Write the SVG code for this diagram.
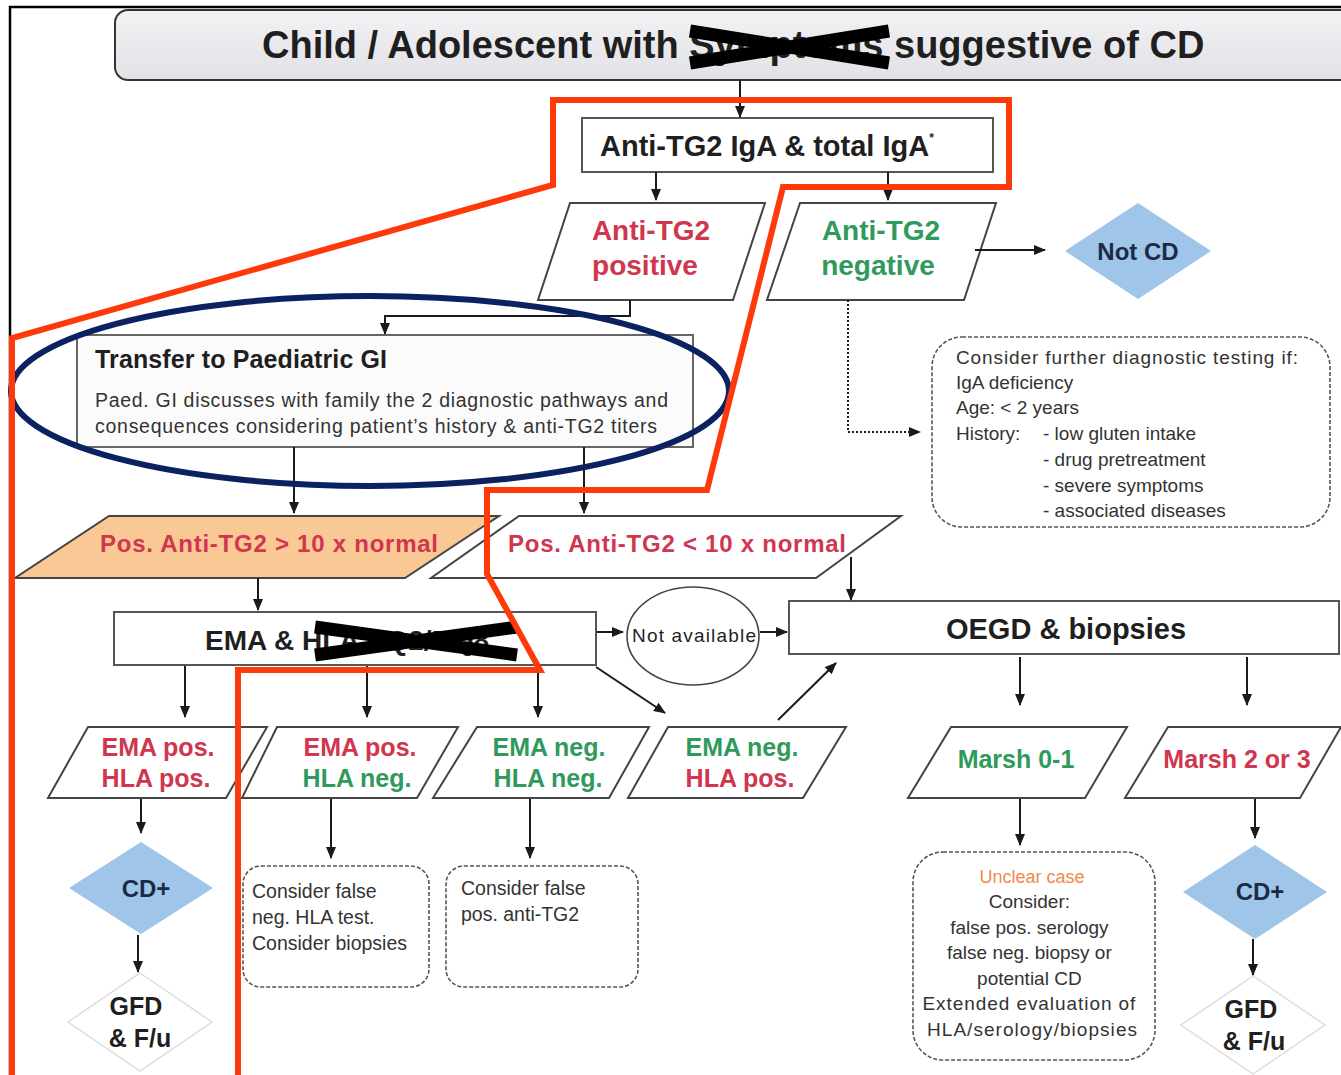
<svg xmlns="http://www.w3.org/2000/svg" width="1341" height="1075" viewBox="0 0 1341 1075">
<defs>
<marker id="ah" markerUnits="userSpaceOnUse" markerWidth="12" markerHeight="10" refX="11" refY="5" orient="auto">
<path d="M0,0 L12,5 L0,10 z" fill="#1a1a1a"/>
</marker>
<linearGradient id="tg" x1="0" y1="0" x2="0" y2="1">
<stop offset="0" stop-color="#f2f2f5"/><stop offset="1" stop-color="#e2e2e6"/>
</linearGradient>
<style>
text{font-family:"Liberation Sans",Arial,sans-serif;}
.b{font-weight:bold;}
.dk{fill:#1f1f1f;}
.red{fill:#d0364e;}
.grn{fill:#2f9a5c;}
.navy{fill:#1c2a48;}
.gray{fill:#333;}
.box{fill:#fff;stroke:#555;stroke-width:2;}
.para{fill:#fff;stroke:#444;stroke-width:2;}
.dash{fill:#fff;stroke:#555;stroke-width:1.6;stroke-dasharray:4 2;}
.dia{fill:#9fc5e8;}
.wdia{fill:#fff;stroke:#ddd;stroke-width:1.5;}
.cn{fill:none;stroke:#1a1a1a;stroke-width:2;marker-end:url(#ah);}
.red-line{fill:none;stroke:#ff3a0a;stroke-width:6;stroke-linejoin:miter;}
.xx{stroke:#000;stroke-width:13;}
</style>
</defs>

<!-- outer frame -->
<path d="M10,1075 V7 H1341" fill="none" stroke="#000" stroke-width="2.5"/>

<g id="title">
<rect x="115" y="10" width="1240" height="70" rx="13" fill="url(#tg)" stroke="#333" stroke-width="2"/>
<text x="262" y="58" class="b dk" font-size="38">Child / Adolescent with Symptoms suggestive of CD</text>
</g>

<g id="antitg2">
<rect x="582" y="118" width="411" height="54" class="box"/>
<text x="600" y="156" class="b dk" font-size="29">Anti-TG2 IgA &amp; total IgA<tspan font-size="12" dy="-14">*</tspan></text>
</g>

<g id="positive">
<polygon points="570,203 765,203 733,300 538,300" class="para"/>
<text x="651" y="240" class="b red" font-size="28" text-anchor="middle">Anti-TG2</text>
<text x="645" y="275" class="b red" font-size="28" text-anchor="middle">positive</text>
</g>

<g id="negative">
<polygon points="800,203 996,203 964,300 767,300" class="para"/>
<text x="881" y="240" class="b grn" font-size="28" text-anchor="middle">Anti-TG2</text>
<text x="878" y="275" class="b grn" font-size="28" text-anchor="middle">negative</text>
</g>

<g id="notcd">
<polygon points="1138,203 1211,251 1138,299 1065,251" class="dia"/>
<text x="1138" y="260" class="b navy" font-size="24" text-anchor="middle">Not CD</text>
</g>

<g id="consider">
<rect x="932" y="337" width="398" height="190" rx="30" class="dash"/>
<text class="gray" font-size="19">
<tspan x="956" y="364" textLength="342">Consider further diagnostic testing if:</tspan>
<tspan x="956" y="389">IgA deficiency</tspan>
<tspan x="956" y="414">Age: &lt; 2 years</tspan>
<tspan x="956" y="440">History:</tspan>
<tspan x="1043" y="440">- low gluten intake</tspan>
<tspan x="1043" y="466">- drug pretreatment</tspan>
<tspan x="1043" y="492">- severe symptoms</tspan>
<tspan x="1043" y="517">- associated diseases</tspan>
</text>
</g>

<g id="transfer">
<rect x="77" y="335" width="616" height="112" fill="#fbfbfb" stroke="#666" stroke-width="2"/>
<text x="95" y="368" class="b dk" font-size="25" textLength="292">Transfer to Paediatric GI</text>
<text x="95" y="407" class="gray" font-size="19.5" textLength="573">Paed. GI discusses with family the 2 diagnostic pathways and</text>
<text x="95" y="433" class="gray" font-size="19.5" textLength="562">consequences considering patient’s history &amp; anti-TG2 titers</text>
</g>

<g id="high">
<polygon points="109,516 499,516 405,578 15,578" fill="#f9c894" stroke="#444" stroke-width="2"/>
<text x="100" y="552" class="b red" font-size="24" textLength="338">Pos. Anti-TG2 &gt; 10 x normal</text>
</g>

<g id="low">
<polygon points="519,516 901,516 816,578 431,578" class="para"/>
<text x="508" y="552" class="b red" font-size="24" textLength="338">Pos. Anti-TG2 &lt; 10 x normal</text>
</g>

<g id="ema">
<rect x="114" y="612" width="482" height="53" class="box"/>
<text x="205" y="650" class="b dk" font-size="28">EMA &amp; HLA DQ2/DQ8</text>
</g>

<g id="notavail">
<ellipse cx="693" cy="636" rx="66" ry="49" fill="#fff" stroke="#444" stroke-width="1.6"/>
<text x="694" y="642" class="dk" font-size="19" text-anchor="middle" textLength="124">Not available</text>
</g>

<g id="oegd">
<rect x="789" y="601" width="550" height="53" class="box"/>
<text x="1066" y="639" class="b dk" font-size="29" text-anchor="middle">OEGD &amp; biopsies</text>
</g>

<g id="r1">
<polygon points="88,727 267,727 226,798 48,798" class="para"/>
<text x="158" y="756" class="b red" font-size="25" text-anchor="middle">EMA pos.</text>
<text x="156" y="787" class="b red" font-size="25" text-anchor="middle">HLA pos.</text>
</g>

<g id="r2">
<polygon points="277,727 458,727 417,798 242,798" class="para"/>
<text x="360" y="756" class="b red" font-size="25" text-anchor="middle">EMA pos.</text>
<text x="357" y="787" class="b grn" font-size="25" text-anchor="middle">HLA neg.</text>
</g>

<g id="r3">
<polygon points="477,727 649,727 609,798 433,798" class="para"/>
<text x="549" y="756" class="b grn" font-size="25" text-anchor="middle">EMA neg.</text>
<text x="548" y="787" class="b grn" font-size="25" text-anchor="middle">HLA neg.</text>
</g>

<g id="r4">
<polygon points="668,727 846,727 803,798 628,798" class="para"/>
<text x="742" y="756" class="b grn" font-size="25" text-anchor="middle">EMA neg.</text>
<text x="740" y="787" class="b red" font-size="25" text-anchor="middle">HLA pos.</text>
</g>

<g id="marsh01">
<polygon points="951,727 1127,727 1085,798 908,798" class="para"/>
<text x="1016" y="768" class="b grn" font-size="25" text-anchor="middle">Marsh 0-1</text>
</g>

<g id="marsh23">
<polygon points="1168,727 1341,727 1300,798 1125,798" class="para"/>
<text x="1237" y="768" class="b red" font-size="25" text-anchor="middle">Marsh 2 or 3</text>
</g>

<g id="cd1">
<polygon points="141,842 213,888 141,934 69,888" class="dia"/>
<text x="146" y="897" class="b navy" font-size="24" text-anchor="middle">CD+</text>
</g>

<g id="gfd1">
<polygon points="140,973 212,1022 140,1071 68,1022" class="wdia"/>
<text x="136" y="1015" class="b dk" font-size="25" text-anchor="middle">GFD</text>
<text x="140" y="1047" class="b dk" font-size="25" text-anchor="middle">&amp; F/u</text>
</g>

<g id="falseneg">
<rect x="243" y="866" width="186" height="121" rx="18" class="dash"/>
<text class="gray" font-size="19.5">
<tspan x="252" y="898">Consider false</tspan>
<tspan x="252" y="924">neg. HLA test.</tspan>
<tspan x="252" y="950">Consider biopsies</tspan>
</text>
</g>

<g id="falsepos">
<rect x="446" y="866" width="192" height="121" rx="18" class="dash"/>
<text class="gray" font-size="19.5">
<tspan x="461" y="895">Consider false</tspan>
<tspan x="461" y="921">pos. anti-TG2</tspan>
</text>
</g>

<g id="unclear">
<rect x="913" y="852" width="242" height="208" rx="30" class="dash"/>
<text x="1032" y="883" font-size="18" fill="#f08a4b" text-anchor="middle">Unclear case</text>
<text class="gray" font-size="19" text-anchor="middle">
<tspan x="1032" y="908">Consider:</tspan>
<tspan x="1032" y="934">false pos. serology</tspan>
<tspan x="1032" y="959">false neg. biopsy or</tspan>
<tspan x="1032" y="985">potential CD</tspan>
<tspan x="1032" y="1010" textLength="213">Extended evaluation of</tspan>
<tspan x="1032" y="1036" textLength="210">HLA/serology/biopsies</tspan>
</text>
</g>

<g id="cd2">
<polygon points="1255,845 1327,892 1255,939 1183,892" class="dia"/>
<text x="1260" y="900" class="b navy" font-size="24" text-anchor="middle">CD+</text>
</g>

<g id="gfd2">
<polygon points="1253,976 1325,1025 1253,1074 1181,1025" class="wdia"/>
<text x="1251" y="1018" class="b dk" font-size="25" text-anchor="middle">GFD</text>
<text x="1254" y="1050" class="b dk" font-size="25" text-anchor="middle">&amp; F/u</text>
</g>

<g id="connectors">
<path d="M740,80 V117" class="cn" stroke-width="1.5"/>
<path d="M656,172 V200" class="cn"/>
<path d="M888,172 V200" class="cn" stroke-width="1.5"/>
<path d="M975,250 H1045" class="cn"/>
<path d="M848,300 V432 H920" class="cn" stroke-dasharray="2 2" stroke-width="2"/>
<path d="M630,300 V316 H385 V334" class="cn"/>
<path d="M294,447 V513" class="cn"/>
<path d="M584,447 V513" class="cn"/>
<path d="M258,578 V610" class="cn"/>
<path d="M851,557 V600" class="cn"/>
<path d="M597,632 H623" class="cn"/>
<path d="M760,632 H787" class="cn"/>
<path d="M596,667 L665,713" class="cn"/>
<path d="M778,720 L836,663" class="cn"/>
<path d="M185,666 V717" class="cn"/>
<path d="M367,666 V717" class="cn"/>
<path d="M538,666 V717" class="cn"/>
<path d="M1020,657 V705" class="cn"/>
<path d="M1247,657 V705" class="cn"/>
<path d="M141,799 V833" class="cn"/>
<path d="M138,935 V972" class="cn"/>
<path d="M331,799 V858" class="cn"/>
<path d="M530,799 V858" class="cn"/>
<path d="M1020,799 V845" class="cn"/>
<path d="M1255,799 V838" class="cn"/>
<path d="M1253,939 V975" class="cn"/>
</g>

<!-- annotations -->
<g id="crosses">
<path d="M690,31 L889,63 M690,63 L889,31" class="xx"/>
<path d="M315,627 L517,655 M315,655 L517,627" class="xx"/>
</g>
<ellipse cx="370" cy="391" rx="359" ry="95" fill="none" stroke="#0b2160" stroke-width="6"/>
<path d="M12,1075 V338 L553,185 V100 H1009 V187 H783 L707,490 H487 V574 L540,670 H238 V1075" class="red-line"/>
</svg>
